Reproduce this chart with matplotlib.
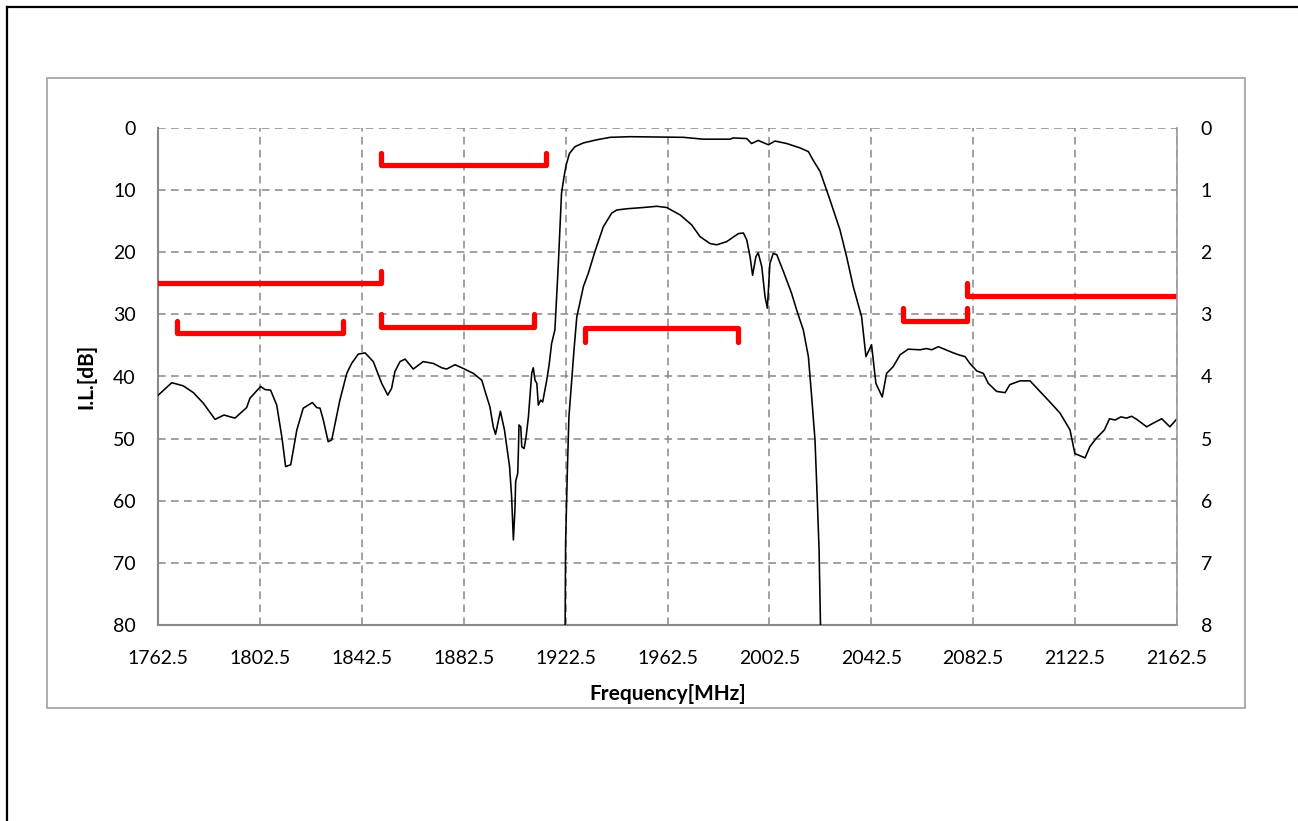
import matplotlib.pyplot as plt
from matplotlib.lines import Line2D
from matplotlib.patches import Rectangle

plt.rcParams['font.family'] = ['Lato', 'DejaVu Sans']

# wideband response (left axis, dB)
freq_wide = [1762.6, 1767.9, 1772.4, 1776.4, 1780.3, 1784.9, 1788.4, 1792.7, 1797.3, 1798.6,
             1802.8, 1804.5, 1806.7, 1809.1, 1811.1, 1812.6, 1814.6, 1817.0, 1819.5, 1823.1,
             1824.8, 1826.1, 1827.4, 1829.3, 1830.7, 1833.9, 1836.6, 1838.5, 1841.1, 1843.8,
             1847.0, 1850.3, 1852.7, 1854.2, 1855.5, 1857.5, 1859.5, 1862.7, 1866.6, 1870.6,
             1873.9, 1875.8, 1879.1, 1882.3, 1886.3, 1889.6, 1890.9, 1892.8, 1894.1, 1895.0,
             1896.9, 1898.5, 1900.5, 1901.3, 1902.0, 1902.6, 1902.9, 1903.7, 1904.0, 1904.2,
             1904.9, 1905.3, 1906.2, 1907.0, 1907.9, 1908.5, 1909.2, 1909.8, 1910.5, 1911.2,
             1911.8, 1912.7, 1913.5, 1915.1, 1916.1, 1917.0, 1918.3, 1919.6, 1920.3, 1920.9,
             1921.9, 1922.7, 1924.0, 1926.2, 1929.5, 1934.7, 1940.0, 1947.8, 1968.7, 1976.5,
             1987.0, 1988.3, 1993.6, 1995.5, 1998.1, 2002.1, 2004.7, 2009.3, 2014.5, 2017.8,
             2019.7, 2022.4, 2026.3, 2030.2, 2032.8, 2035.4, 2038.7, 2040.4, 2042.6, 2044.3,
             2046.8, 2048.5, 2051.1, 2053.8, 2057.0, 2061.6, 2064.2, 2066.2, 2068.8, 2074.1,
             2076.7, 2079.3, 2081.2, 2083.9, 2086.5, 2088.4, 2091.7, 2095.0, 2096.9, 2100.9,
             2104.8, 2108.7, 2112.6, 2116.6, 2120.5, 2122.4, 2126.4, 2128.3, 2130.7, 2134.0,
             2136.0, 2138.2, 2140.5, 2142.7, 2144.7, 2146.7, 2150.6, 2153.2, 2156.5, 2159.7,
             2162.5]
il_wide = [43.0, 41.0, 41.5, 42.6, 44.3, 46.9, 46.2, 46.7, 45.0, 43.5,
           41.6, 42.1, 42.2, 44.6, 49.7, 54.5, 54.2, 48.6, 45.1, 44.2,
           45.0, 45.1, 47.0, 50.5, 50.2, 43.8, 39.5, 37.9, 36.4, 36.2,
           37.6, 41.1, 43.0, 41.9, 39.2, 37.6, 37.2, 38.8, 37.6, 37.9,
           38.6, 38.8, 38.1, 38.7, 39.5, 40.6, 42.4, 44.9, 48.1, 49.3,
           45.6, 48.6, 54.5, 59.3, 66.3, 61.5, 56.9, 55.6, 51.6, 47.8,
           48.1, 51.3, 51.6, 49.7, 46.5, 43.3, 39.5, 38.6, 40.6, 41.1,
           44.6, 43.8, 44.1, 40.6, 37.9, 34.7, 32.5, 22.3, 15.9, 10.5,
           7.8, 6.0, 4.1, 3.0, 2.4, 1.9, 1.5, 1.4, 1.5, 1.8,
           1.8, 1.6, 1.7, 2.5, 2.0, 2.7, 2.1, 2.5, 3.2, 3.8,
           5.2, 7.0, 11.6, 16.4, 20.7, 25.5, 30.4, 36.8, 34.9, 41.1,
           43.3, 39.5, 38.4, 36.5, 35.6, 35.7, 35.5, 35.7, 35.2, 36.1,
           36.5, 36.8, 37.9, 39.1, 39.5, 41.1, 42.4, 42.6, 41.3, 40.7,
           40.7, 42.4, 44.1, 45.9, 48.6, 52.4, 53.1, 51.3, 50.0, 48.6,
           46.8, 47.0, 46.5, 46.7, 46.4, 46.9, 48.1, 47.5, 46.8, 48.1,
           46.8]

# passband zoom (right axis, dB)
freq_pass = [1922.3, 1922.5, 1923.2, 1923.8, 1924.9, 1925.8, 1926.9, 1929.5, 1931.4, 1934.0,
             1937.3, 1940.6, 1942.6, 1946.5, 1953.0, 1958.3, 1962.2, 1967.5, 1972.0, 1975.3,
             1979.2, 1981.8, 1985.7, 1990.3, 1992.3, 1993.6, 1994.9, 1995.9, 1997.2, 1998.1,
             1999.5, 2000.8, 2001.7, 2002.7, 2004.0, 2005.4, 2008.0, 2011.2, 2013.2, 2015.8,
             2017.8, 2019.1, 2020.4, 2021.3, 2022.0, 2022.6]
il_pass = [8.1, 6.69, 5.50, 4.65, 4.06, 3.57, 3.04, 2.55, 2.34, 1.99,
           1.59, 1.37, 1.32, 1.30, 1.28, 1.26, 1.28, 1.40, 1.56, 1.75,
           1.86, 1.88, 1.83, 1.70, 1.69, 1.80, 2.07, 2.37, 2.07, 2.01,
           2.23, 2.72, 2.90, 2.18, 2.02, 2.04, 2.31, 2.66, 2.93, 3.25,
           3.68, 4.33, 5.02, 5.99, 6.79, 8.1]

# spec masks: start, stop, level, tick end
mask_start = [1850, 1755, 1770, 1850, 1930, 2055, 2080]
mask_stop = [1915, 1850, 1835, 1910, 1990, 2080, 2170]
mask_level = [6, 25, 33, 32, 32.2, 31, 27]
mask_tick = [4, 23, 31, 30, 34.5, 29, 25]
mask_left_tick = [True, False, True, True, True, True, True]
mask_right_tick = [True, True, True, True, True, True, False]

xticks = [1762.5 + 40 * i for i in range(11)]

fig = plt.figure(figsize=(12.98, 8.21), dpi=100)
W, H = 1298, 821

# outer frame (only top and left visible) and inner chart border
fig.add_artist(Line2D([7 / W, 1.0], [1 - 7 / H, 1 - 7 / H], color='black', lw=1.6))
fig.add_artist(Line2D([7 / W, 7 / W], [0, 1 - 7 / H], color='black', lw=1.6))
fig.add_artist(Rectangle((47 / W, 1 - 708 / H), (1245 - 47) / W, (708 - 78) / H,
                         fill=False, edgecolor='#a0a0a0', lw=1.2))

ax = fig.add_axes([158 / W, 1 - 625 / H, 1019 / W, 497 / H])
ax2 = ax.twinx()

grid_kw = dict(color='#888888', lw=1.1, linestyle=(0, (5, 3.5)))
ax.grid(True, **grid_kw)
ax.set_axisbelow(True)

ax.plot(freq_wide, il_wide, color='black', lw=1.15, zorder=3)
ax2.plot(freq_pass, il_pass, color='black', lw=1.15, zorder=3)

for i in range(len(mask_start)):
    xs, ys = [], []
    if mask_left_tick[i]:
        xs.append(mask_start[i])
        ys.append(mask_tick[i])
    xs += [mask_start[i], mask_stop[i]]
    ys += [mask_level[i], mask_level[i]]
    if mask_right_tick[i]:
        xs.append(mask_stop[i])
        ys.append(mask_tick[i])
    ax.plot(xs, ys, color='#ff0000', lw=3.8, solid_capstyle='round',
            solid_joinstyle='round', zorder=4)

ax.set_xlim(1762.5, 2162.5)
ax.set_ylim(80, 0)
ax2.set_ylim(8, 0)
ax.set_xticks(xticks)
ax.set_xticklabels([f'{t:.1f}' for t in xticks])
ax.set_yticks(range(0, 81, 10))
ax2.set_yticks(range(0, 9))

ax.tick_params(axis='both', length=0, labelsize=14, colors='black')
ax.tick_params(axis='y', pad=16)
ax.tick_params(axis='x', pad=18)
ax2.tick_params(axis='y', length=0, labelsize=14, pad=17)

for a in (ax, ax2):
    a.spines['top'].set_visible(False)
ax.spines['left'].set_color('#888888')
ax.spines['left'].set_linewidth(1.5)
ax.spines['bottom'].set_color('#888888')
ax.spines['bottom'].set_linewidth(1.5)
ax.spines['right'].set_visible(False)
ax2.spines['left'].set_visible(False)
ax2.spines['bottom'].set_visible(False)
ax2.spines['right'].set_color('#999999')
ax2.spines['right'].set_linewidth(1.2)

ax.set_xlabel('Frequency[MHz]', fontsize=15, fontweight='bold', labelpad=12)
ax.set_ylabel('I.L.[dB]', fontsize=15, fontweight='bold', labelpad=12)

fig.savefig('out.png', dpi=100)
